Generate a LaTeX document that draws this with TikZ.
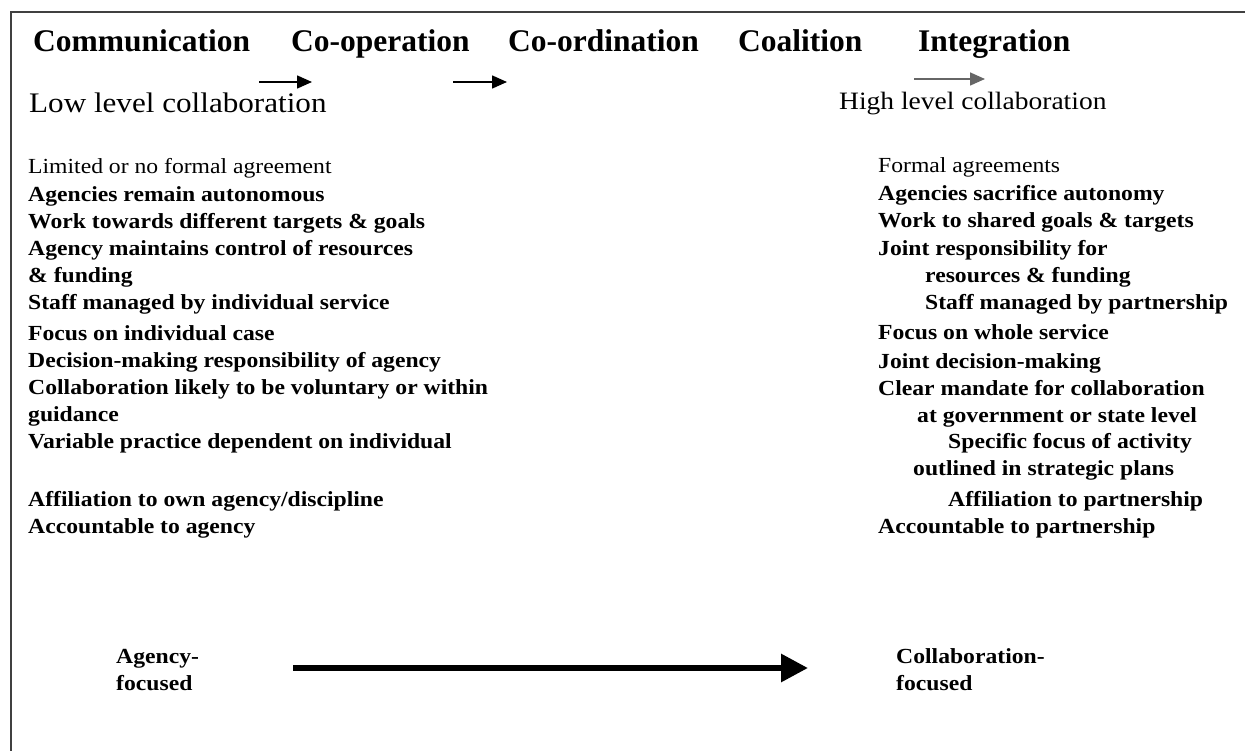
\documentclass[tikz,border=0pt]{standalone}
\usepackage{fontspec}
\setmainfont{Liberation Serif}
\newfontfamily\widefont{Liberation Serif}[FakeStretch=1.1]
\usetikzlibrary{arrows.meta}

\begin{document}
\begin{tikzpicture}[
    x=1pt, y=-1pt,
    stage/.style={anchor=base west, inner sep=0pt,
                  font=\fontsize{31.5}{36}\selectfont\bfseries},
    lvltext/.style={anchor=base west, inner sep=0pt},
    agree/.style={anchor=base west, inner sep=0pt,
                  font=\widefont\fontsize{21.5}{27}\selectfont},
    feat/.style={anchor=base west, inner sep=0pt,
                 font=\widefont\fontsize{21.5}{27}\selectfont\bfseries},
    focus/.style={feat, align=left},
    steparrow/.style={-{Triangle[length=15pt, width=13pt]}, line width=1.6pt},
    bigarrow/.style={-{Triangle[length=27pt, width=27pt]}, line width=6pt},
]
    \useasboundingbox (0,0) rectangle (1245,751);

    %==================== frame ====================
    \draw[line width=1.6pt, black!75] (11,751) -- (11,12) -- (1245,12);

    %==================== STAGES ====================
    \node[stage] (comm)  at (33,52)  {Communication};
    \node[stage] (coop)  at (291,52) {Co-operation};
    \node[stage] (coord) at (508,52) {Co-ordination};
    \node[stage] (coal)  at (738,52) {Coalition};
    \node[stage] (integ) at (918,52) {Integration};

    % little arrows between the stages
    \coordinate (a1s) at (259,82);  \coordinate (a1e) at (312,82);
    \coordinate (a2s) at (453,82);  \coordinate (a2e) at (507,82);
    \coordinate (a3s) at (914,79);  \coordinate (a3e) at (985,79);
    \draw[steparrow] (a1s) -- (a1e);
    \draw[steparrow] (a2s) -- (a2e);
    \draw[steparrow, black!60] (a3s) -- (a3e);

    %==================== low / high level ====================
    \node[lvltext, font=\widefont\fontsize{28.3}{32}\selectfont] (low) at (29,113)
        {Low level collaboration};
    \node[lvltext, font=\widefont\fontsize{25}{30}\selectfont] (high) at (839,110)
        {High level collaboration};

    %==================== LOW LEVEL column ====================
    \node[agree] (lagree) at (28,174)   {Limited or no formal agreement};
    \node[feat]  (lauto)  at (28,201.5) {Agencies remain autonomous};
    \node[feat]  (lgoals) at (28,228.5) {Work towards different targets \& goals};
    \node[feat]  (lres)   at (28,256)   {Agency maintains control of resources};
    \node[feat]  (lres2)  at (28,283)   {\& funding};
    \node[feat]  (lstaff) at (28,310)   {Staff managed by individual service};
    \node[feat]  (lcase)  at (28,341)   {Focus on individual case};
    \node[feat]  (ldec)   at (28,367)   {Decision-making responsibility of agency};
    \node[feat]  (lvol)   at (28,394)   {Collaboration likely to be voluntary or within};
    \node[feat]  (lvol2)  at (28,421.5) {guidance};
    \node[feat]  (lprac)  at (28,448.5) {Variable practice dependent on individual};
    \node[feat]  (laff)   at (28,506)   {Affiliation to own agency/discipline};
    \node[feat]  (lacc)   at (28,533)   {Accountable to agency};

    %==================== HIGH LEVEL column ====================
    \node[agree] (ragree) at (878,173) {Formal agreements};
    \node[feat]  (rauto)  at (878,201) {Agencies sacrifice autonomy};
    \node[feat]  (rgoals) at (878,228) {Work to shared goals \& targets};
    \node[feat]  (rres)   at (878,256) {Joint responsibility for};
    \node[feat]  (rres2)  at (925,283) {resources \& funding};
    \node[feat]  (rstaff) at (925,310) {Staff managed by partnership};
    \node[feat]  (rserv)  at (878,340) {Focus on whole service};
    \node[feat]  (rdec)   at (878,368) {Joint decision-making};
    \node[feat]  (rman)   at (878,395) {Clear mandate for collaboration};
    \node[feat]  (rman2)  at (917,422) {at government or state level};
    \node[feat]  (rspec)  at (948,448) {Specific focus of activity};
    \node[feat]  (rspec2) at (913,475) {outlined in strategic plans};
    \node[feat]  (raff)   at (948,506) {Affiliation to partnership};
    \node[feat]  (racc)   at (878,533) {Accountable to partnership};

    %==================== bottom arrow ====================
    % base of a two-line node sits on its last line
    \node[focus] (agency) at (116,690) {Agency-\\focused};
    \node[focus] (collab) at (896,690) {Collaboration-\\focused};
    \coordinate (bigs) at (293,668);
    \coordinate (bige) at (808,668);
    \draw[bigarrow] (bigs) -- (bige);

\end{tikzpicture}
\end{document}
